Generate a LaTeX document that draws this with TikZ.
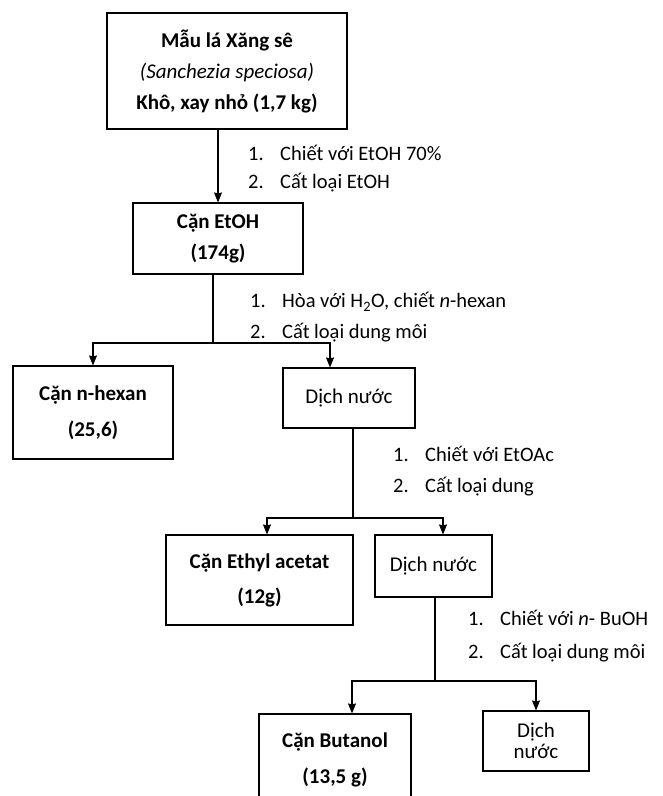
\documentclass[tikz,border=0pt]{standalone}
\usepackage{fontspec}
\setmainfont{Carlito}
\usetikzlibrary{positioning,arrows.meta}
\newcommand{\buoc}[1]{\makebox[32pt][l]{#1}}

\begin{document}
\begin{tikzpicture}[x=1pt, y=-1pt,
  box/.style={draw, line width=1.1pt, align=center, inner sep=0pt,
    font=\fontsize{21}{31}\selectfont},
  steps/.style={anchor=west, align=left, inner sep=0pt,
    font=\fontsize{20.5}{31}\selectfont},
  link/.style={line width=1.1pt},
  >={Stealth[length=10pt,width=8pt,inset=1pt]}
]
  \useasboundingbox (0,0) rectangle (662,796);

  \node[box, minimum width=240, minimum height=116] (mau) at (227,71)
    {\textbf{Mẫu lá Xăng sê}\\\textit{(Sanchezia speciosa)}\\\textbf{Khô, xay nhỏ (1,7 kg)}};
  \node[box, minimum width=170, minimum height=71] (etoh) at (218,238.5)
    {\textbf{Cặn EtOH}\\\textbf{(174g)}};
  \node[box, minimum width=160, minimum height=93] (hexan) at (93,412.5)
    {\textbf{Cặn n-hexan}\\[5pt]\textbf{(25,6)}};
  \node[box, minimum width=132, minimum height=60] (nuoc1) at (349,398) {Dịch nước};
  \node[box, minimum width=187, minimum height=90] (ethyl) at (259.5,580)
    {\textbf{Cặn Ethyl acetat}\\[4pt]\textbf{(12g)}};
  \node[box, minimum width=117, minimum height=62] (nuoc2) at (433.5,566) {Dịch nước};
  \node[box, minimum width=152, minimum height=92] (butanol) at (335,760)
    {\textbf{Cặn Butanol}\\[5pt]\textbf{(13,5 g)}};
  \node[box, minimum width=106, minimum height=60,
    font=\fontsize{21}{21}\selectfont] (nuoc3) at (536,741) {Dịch\\nước};

  % cac buoc chiet
  \node[steps, font=\fontsize{20.5}{28}\selectfont] (b1) at (248,169)
    {\buoc{1.}Chiết với EtOH 70\%\\\buoc{2.}Cất loại EtOH};
  \node[steps] (b2) at (250,317.5)
    {\buoc{1.}Hòa với H\textsubscript{2}O, chiết \textit{n}-hexan\\\buoc{2.}Cất loại dung môi};
  \node[steps] (b3) at (393,471)
    {\buoc{1.}Chiết với EtOAc\\\buoc{2.}Cất loại dung};
  \node[steps, font=\fontsize{20.5}{33}\selectfont] (b4) at (468,636.5)
    {\buoc{1.}Chiết với \textit{n}- BuOH\\\buoc{2.}Cất loại dung môi};

  \draw[link, ->] (etoh.north |- mau.south) -- (etoh.north);

  \coordinate (r1) at (213,343);
  \draw[link] (etoh.south -| r1) -- (r1);
  \draw[link, ->] (r1) -| (hexan.north);
  \draw[link, ->] (r1) -| ([xshift=-19]nuoc1.north);

  \coordinate (r2) at (353,518);
  \draw[link] (nuoc1.south -| r2) -- (r2);
  \draw[link, ->] (r2) -| ([xshift=7.5]ethyl.north);
  \draw[link, ->] (r2) -| ([xshift=9.5]nuoc2.north);

  \coordinate (r3) at (435,681);
  \draw[link] (nuoc2.south -| r3) -- (r3);
  \draw[link, ->] (r3) -| ([xshift=17]butanol.north);
  \draw[link, ->] (r3) -| (nuoc3.north);
\end{tikzpicture}
\end{document}
